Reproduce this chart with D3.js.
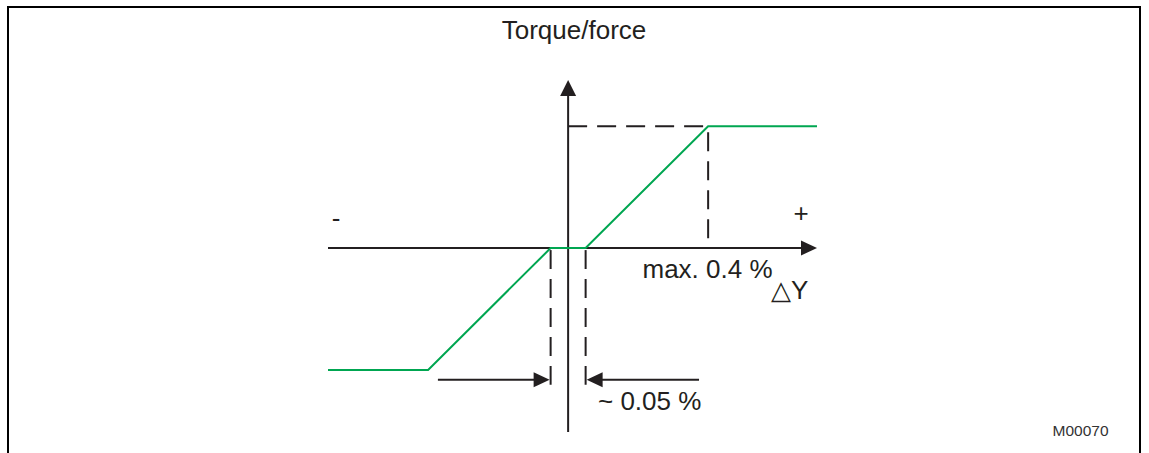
<!doctype html>
<html>
<head>
	<script src="https://d3js.org/d3.v7.min.js"></script>
	<style>
		body { margin: 0; background: #fff; }
		text { font-family: "Liberation Sans", Arial, sans-serif; fill: #231f20; }
	</style>
</head>
<body>
	<div id="viz">
		<svg style="width:1149px;height:453px;display:block;"></svg>
	</div>
	<script>

		// stroke in %, torque/force in units of the limit
		var xDomain = [-0.686, 0.711];
		var yDomain = [-1.51, 1.38];

		var curveX = [-0.686, -0.4, -0.05, 0.05, 0.4, 0.711];
		var curveY = [-1, -1, 0, 0, 1, 1];

		var deadBand = [-0.05, 0.05];
		var maxStroke = 0.4;
		var maxTorque = 1;
		var arrowLevel = -1.08;
		var arrowTails = [-0.372, 0.374];

		var title = "Torque/force";
		var labelMax = "max. 0.4 %";
		var labelDead = "~ 0.05 %";
		var labelAxis = "△Y";
		var code = "M00070";

		var svg = d3.select("svg");
		var ink = "#231f20";
		var green = "#00a651";

		var xScale = d3.scaleLinear().domain(xDomain).range([328, 817]);
		var yScale = d3.scaleLinear().domain(yDomain).range([432, 80]);

		// frame
		svg.append("path")
			.attr("d", "M8,470 V7 H1140 V470")
			.attr("fill", "none")
			.attr("stroke", "#000")
			.attr("stroke-width", 2);

		var x0 = xScale(0), y0 = yScale(0);

		// axes
		svg.append("line")
			.attr("x1", xScale(xDomain[0])).attr("y1", y0)
			.attr("x2", xScale(xDomain[1]) - 14).attr("y2", y0)
			.attr("stroke", ink).attr("stroke-width", 2);
		svg.append("path")
			.attr("d", "M" + xScale(xDomain[1]) + "," + y0 + " l-16,-7.5 v15 z")
			.attr("fill", ink);

		svg.append("line")
			.attr("x1", x0).attr("y1", yScale(yDomain[0]))
			.attr("x2", x0).attr("y2", yScale(yDomain[1]) + 14)
			.attr("stroke", ink).attr("stroke-width", 2);
		svg.append("path")
			.attr("d", "M" + x0 + "," + yScale(yDomain[1]) + " l-8,16 h16 z")
			.attr("fill", ink);

		// dashed guides
		var dash = "19,10";
		svg.append("line")
			.attr("x1", x0).attr("y1", yScale(maxTorque))
			.attr("x2", xScale(maxStroke)).attr("y2", yScale(maxTorque))
			.attr("stroke", ink).attr("stroke-width", 2).attr("stroke-dasharray", dash);
		svg.append("line")
			.attr("x1", xScale(maxStroke)).attr("y1", yScale(maxTorque) + 6)
			.attr("x2", xScale(maxStroke)).attr("y2", y0)
			.attr("stroke", ink).attr("stroke-width", 2).attr("stroke-dasharray", dash);

		svg.selectAll("line.db")
			.data(deadBand)
			.enter()
			.append("line")
				.attr("class", "db")
				.attr("x1", d => xScale(d)).attr("y1", y0 + 2)
				.attr("x2", d => xScale(d)).attr("y2", yScale(arrowLevel) + 5)
				.attr("stroke", ink).attr("stroke-width", 2).attr("stroke-dasharray", dash);

		// dead band arrows
		deadBand.forEach(function(d, i) {
			var tip = xScale(d) + (i === 0 ? -1 : 1);
			var tail = xScale(arrowTails[i]);
			var dir = i === 0 ? 1 : -1;
			var ya = yScale(arrowLevel);
			svg.append("line")
				.attr("x1", tail).attr("y1", ya)
				.attr("x2", tip - dir * 14).attr("y2", ya)
				.attr("stroke", ink).attr("stroke-width", 2);
			svg.append("path")
				.attr("d", "M" + tip + "," + ya + " l" + (-dir * 16) + ",-7.5 v15 z")
				.attr("fill", ink);
		});

		// characteristic
		var line = d3.line()
			.x((d, i) => xScale(curveX[i]))
			.y(d => yScale(d));

		svg.append("path")
			.datum(curveY)
			.attr("d", line)
			.attr("fill", "none")
			.attr("stroke", green)
			.attr("stroke-width", 2);

		// texts
		svg.append("text")
			.attr("x", 574).attr("y", 39)
			.attr("text-anchor", "middle")
			.attr("font-size", 26)
			.text(title);

		svg.append("text")
			.attr("x", 336).attr("y", 227)
			.attr("text-anchor", "middle")
			.attr("font-size", 26)
			.text("-");

		svg.append("text")
			.attr("x", 801).attr("y", 222)
			.attr("text-anchor", "middle")
			.attr("font-size", 26)
			.text("+");

		svg.append("text")
			.attr("x", 642.5).attr("y", 278)
			.attr("font-size", 26)
			.text(labelMax);

		svg.append("text")
			.attr("x", 771).attr("y", 299)
			.attr("font-size", 26)
			.text(labelAxis);

		svg.append("text")
			.attr("x", 598).attr("y", 410)
			.attr("font-size", 26)
			.text(labelDead);

		svg.append("text")
			.attr("x", 1052.5).attr("y", 436)
			.attr("font-size", 15.5)
			.style("fill", "#333")
			.text(code);

	</script>
</body>
</html>
